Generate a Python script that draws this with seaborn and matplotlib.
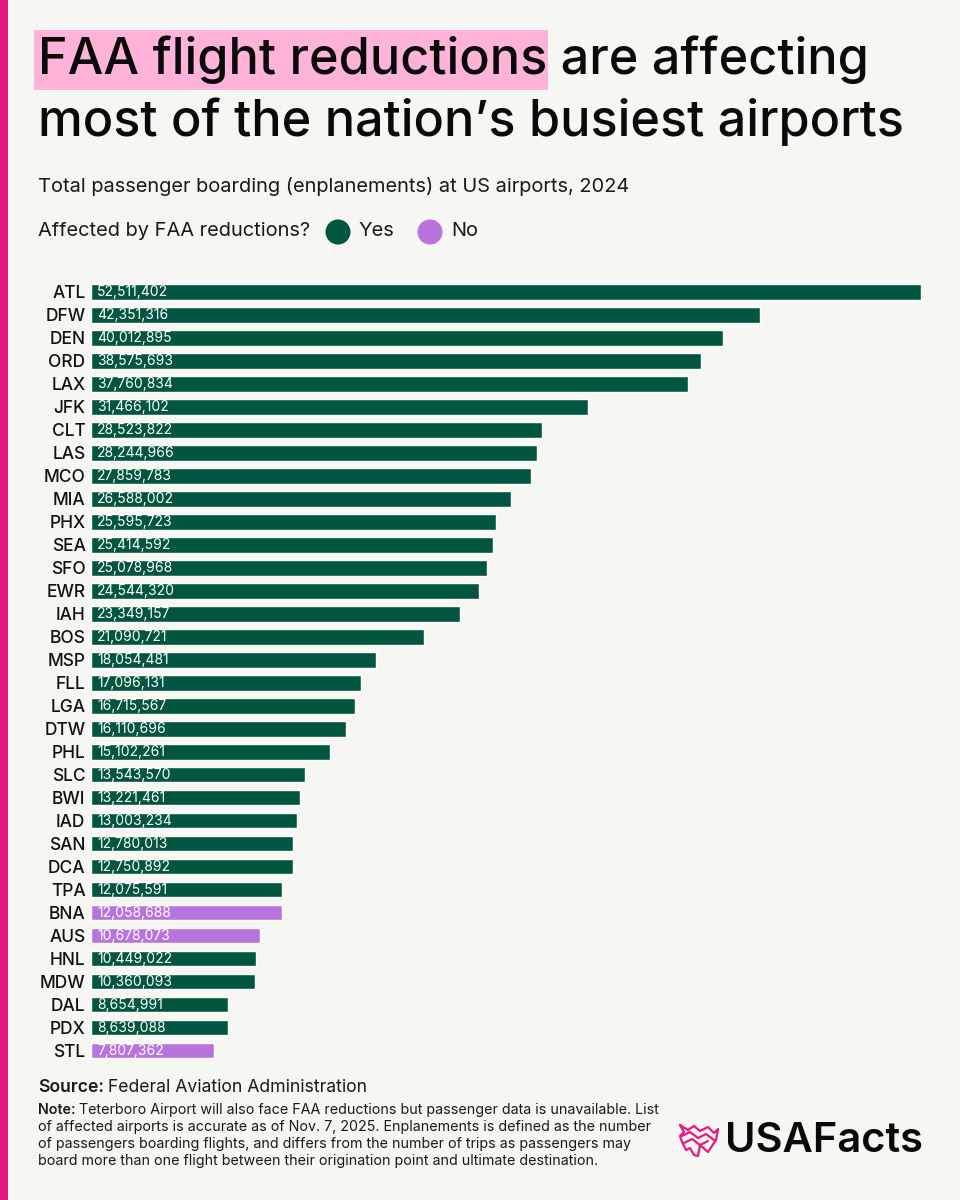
import matplotlib
matplotlib.use("Agg")
import matplotlib.pyplot as plt
import seaborn as sns
import pandas as pd
from matplotlib.patches import Rectangle, Circle

airports = ["ATL", "DFW", "DEN", "ORD", "LAX", "JFK", "CLT", "LAS", "MCO", "MIA",
            "PHX", "SEA", "SFO", "EWR", "IAH", "BOS", "MSP", "FLL", "LGA", "DTW",
            "PHL", "SLC", "BWI", "IAD", "SAN", "DCA", "TPA", "BNA", "AUS", "HNL",
            "MDW", "DAL", "PDX", "STL"]
enplanements = [52511402, 42351316, 40012895, 38575693, 37760834, 31466102, 28523822,
                28244966, 27859783, 26588002, 25595723, 25414592, 25078968, 24544320,
                23349157, 21090721, 18054481, 17096131, 16715567, 16110696, 15102261,
                13543570, 13221461, 13003234, 12780013, 12750892, 12075591, 12058688,
                10678073, 10449022, 10360093, 8654991, 8639088, 7807362]
affected = ["Yes"] * 27 + ["No", "No", "Yes", "Yes", "Yes", "Yes", "No"]

BG = "#F6F6F2"
GREEN = "#02563F"
PURPLE = "#B874DC"
PINK = "#E6197E"
HILITE = "#FFB3D9"
FONT = ["Inter", "DejaVu Sans"]

sns.set_theme(style="white")
plt.rcParams["font.family"] = FONT

df = pd.DataFrame({"airport": airports, "value": enplanements, "affected": affected})

W, H = 960, 1200
fig = plt.figure(figsize=(9.6, 12), dpi=100, facecolor=BG)

def fx(px):
    return px / W

def fy(py):
    return 1 - py / H

n = len(airports)
top_px, bot_px = 280.5, 1062
ax = fig.add_axes([fx(91), fy(bot_px), fx(921) - fx(91), fy(top_px) - fy(bot_px)])
ax.set_facecolor(BG)
sns.barplot(data=df, x="value", y="airport", hue="affected", order=airports,
            palette={"Yes": GREEN, "No": PURPLE}, dodge=False, width=0.68,
            ax=ax, legend=False, saturation=1)
ax.set_xlim(0, max(enplanements))
ax.set_ylim(n - 0.5, -0.5)
for s in ax.spines.values():
    s.set_visible(False)
ax.set_xticks([])
ax.set_xlabel("")
ax.set_ylabel("")
ax.tick_params(axis="y", length=0, pad=4)
for lab in ax.get_yticklabels():
    lab.set_fontsize(12.5)
    lab.set_fontweight("medium")
    lab.set_color("#111111")
for i, v in enumerate(enplanements):
    ax.text(max(enplanements) * 0.0075, i, f"{v:,}", color="white", fontsize=10,
            va="center", ha="left")

# left stripe
fig.patches.append(Rectangle((0, 0), fx(8), 1, transform=fig.transFigure,
                             facecolor=PINK, edgecolor="none"))
# title highlight
fig.patches.append(Rectangle((fx(34), fy(90)), fx(548) - fx(34), fy(30) - fy(90),
                             transform=fig.transFigure, facecolor=HILITE,
                             edgecolor="none", zorder=0))
fig.text(fx(38), fy(60), "FAA flight reductions are affecting", fontsize=36.3,
         fontweight="medium", color="#0A0A0A", va="center", ha="left")
fig.text(fx(38), fy(122), "most of the nation\u2019s busiest airports", fontsize=36.3,
         fontweight="medium", color="#0A0A0A", va="center", ha="left")
fig.text(fx(38), fy(186), "Total passenger boarding (enplanements) at US airports, 2024",
         fontsize=14.4, color="#1A1A1A", va="center", ha="left")
fig.text(fx(38), fy(231), "Affected by FAA reductions?", fontsize=14.4,
         color="#1A1A1A", va="center", ha="left")

# legend dots (drawn in pixel space)
lax = fig.add_axes([0, 0, 1, 1], facecolor="none")
lax.set_xlim(0, W)
lax.set_ylim(H, 0)
lax.axis("off")
lax.add_patch(Circle((338, 232), 12.5, facecolor=GREEN, edgecolor="none"))
lax.add_patch(Circle((430, 232), 12.5, facecolor=PURPLE, edgecolor="none"))
lax.text(358, 231, "Yes", fontsize=14.4, color="#1A1A1A", va="center", ha="left")
lax.text(451, 231, "No", fontsize=14.4, color="#1A1A1A", va="center", ha="left")

renderer = fig.canvas.get_renderer()

def lead_text(x, y, bold, rest, size):
    t = lax.text(x, y, bold, fontsize=size, fontweight="semibold", color="#1A1A1A",
                 va="center", ha="left")
    bb = t.get_window_extent(renderer=renderer)
    lax.text(x + bb.width + size * 0.35, y, rest, fontsize=size, color="#1A1A1A",
             va="center", ha="left")

# source and note
lead_text(38, 1088, "Source:", "Federal Aviation Administration", 12.7)
note_first = "Teterboro Airport will also face FAA reductions but passenger data is unavailable. List"
note_lines = [
    "of affected airports is accurate as of Nov. 7, 2025. Enplanements is defined as the number",
    "of passengers boarding flights, and differs from the number of trips as passengers may",
    "board more than one flight between their origination point and ultimate destination.",
]
lead_text(38, 1110, "Note:", note_first, 10.3)
for k, line in enumerate(note_lines):
    lax.text(38, 1127 + 17 * k, line, fontsize=10.3, color="#1A1A1A",
             va="center", ha="left")

# logo
lax.text(725, 1141, "USAFacts", fontsize=30, fontweight="semibold", color="#0A0A0A",
         va="center", ha="left")
outline_x = [680, 688, 694, 700, 708, 714, 718, 716, 712, 708, 700, 698, 694, 690, 686, 682, 680, 684, 680]
outline_y = [1125, 1130, 1126, 1131, 1127, 1133, 1129, 1140, 1146, 1152, 1145, 1156, 1155, 1148, 1150, 1142, 1136, 1132, 1125]
lax.plot(outline_x, outline_y, color=PINK, lw=1.6, solid_joinstyle="round")
lax.plot([682, 690, 698, 706, 714], [1136, 1132, 1138, 1134, 1140], color=PINK, lw=1.6)
lax.plot([684, 692, 700, 708], [1143, 1139, 1145, 1141], color=PINK, lw=1.6)

fig.savefig("out.png", dpi=100, facecolor=BG)
